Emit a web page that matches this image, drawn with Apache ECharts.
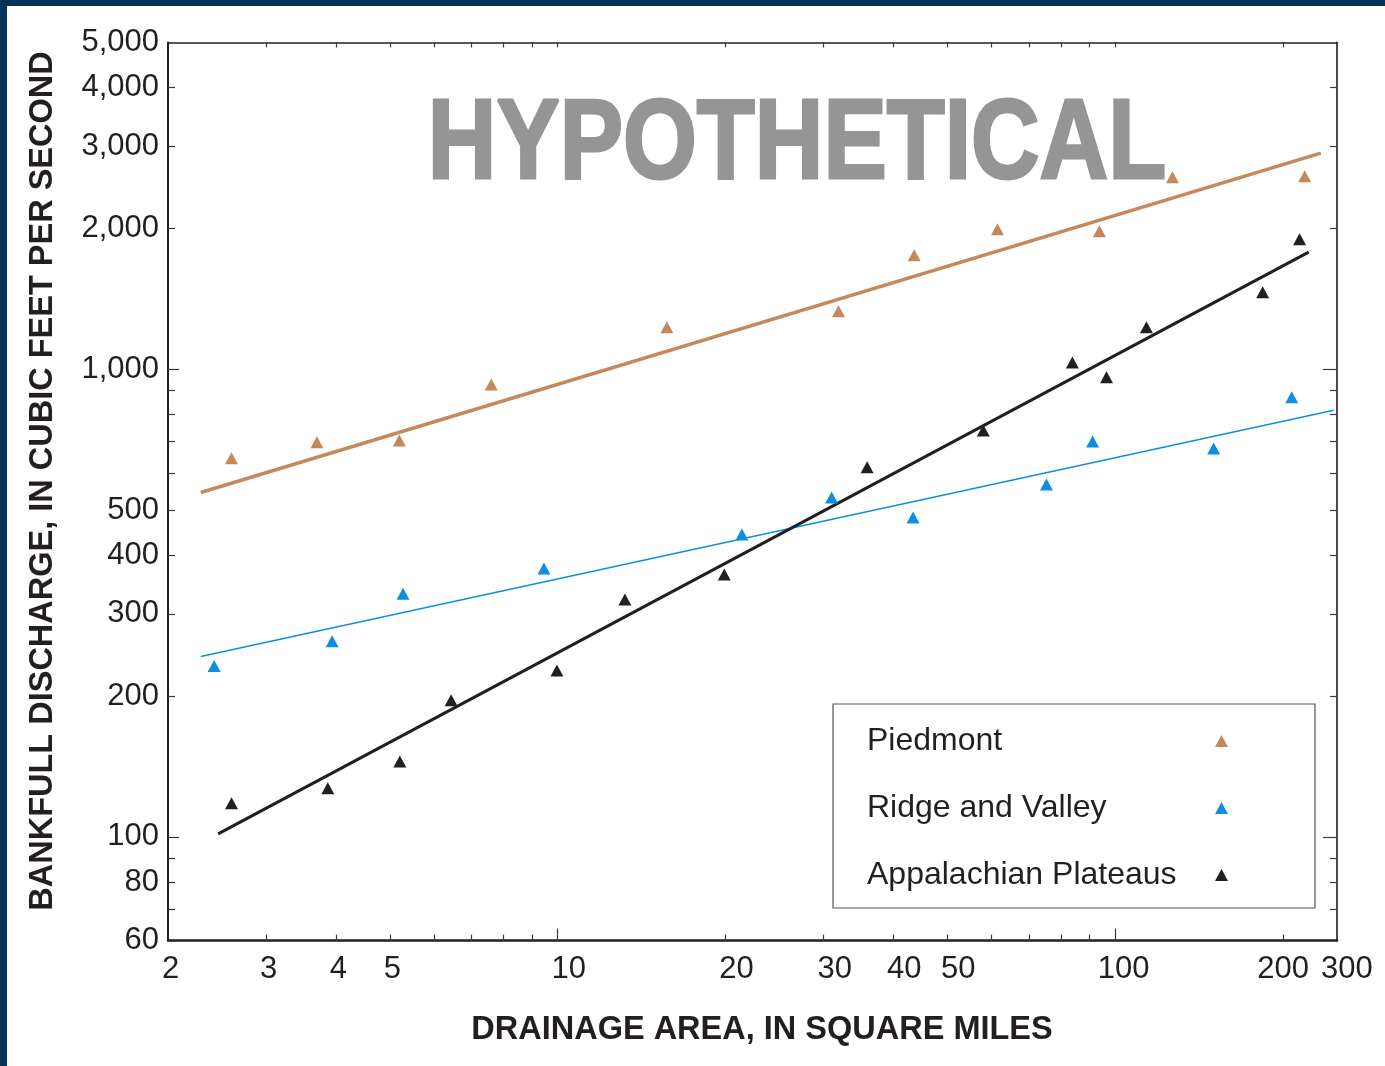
<!DOCTYPE html>
<html>
<head>
<meta charset="utf-8">
<title>Bankfull discharge vs drainage area</title>
<script src="https://cdn.jsdelivr.net/npm/echarts@6/dist/echarts.min.js"></script>
<style>
  html, body { margin: 0; padding: 0; background: #ffffff; }
  #chart { width: 1385px; height: 1066px; }
</style>
</head>
<body>
<div id="chart"></div>
<script>
// Drainage area (square miles) and bankfull discharge (cubic feet per second)
const piedmontArea  = [2.6, 3.7, 5.2, 7.6, 15.7, 31.9, 43.6, 61.5, 93.7, 126.7, 218.8];
const piedmontFlow  = [645, 698, 704, 928, 1229, 1330, 1753, 1993, 1974, 2575, 2588];

const ridgeArea     = [2.42, 3.94, 5.28, 9.45, 21.4, 31.0, 43.4, 75.3, 91.1, 150.2, 207.4];
const ridgeFlow     = [232, 262, 331, 375, 443, 532, 482, 567, 701, 677, 871];

const plateausArea  = [2.6, 3.87, 5.21, 6.44, 9.97, 13.2, 19.9, 35.9, 58.0, 83.8, 96.5, 113.8, 183.9, 214.2];
const plateausFlow  = [118, 127, 145, 196, 227, 322, 364, 617, 740, 1034, 961, 1229, 1461, 1897];

// Fitted regression lines (end points)
const piedmontFitArea = [2.29, 233.8];
const piedmontFitFlow = [545, 2899];
const ridgeFitArea    = [2.29, 246.6];
const ridgeFitFlow    = [243, 817];
const plateausFitArea = [2.46, 222.4];
const plateausFitFlow = [101.5, 1780];

// Axis ranges, ticks and labels
const areaRange = [2, 250];
const flowRange = [60, 5000];
const areaLabels = [2, 3, 4, 5, 10, 20, 30, 40, 50, 100, 200];
const areaExtraLabel = '300';
const areaMinorTicks = [3, 4, 5, 6, 7, 8, 9, 20, 30, 40, 50, 60, 70, 80, 90, 200];
const areaMajorTicks = [10, 100];
const flowLabels = [60, 80, 100, 200, 300, 400, 500, 1000, 2000, 3000, 4000, 5000];
const flowMinorTicks = [70, 80, 90, 200, 300, 400, 500, 600, 700, 800, 900, 2000, 3000, 4000];
const flowMajorTicks = [100, 1000];

const seriesNames = ['Piedmont', 'Ridge and Valley', 'Appalachian Plateaus'];
const watermark = 'HYPOTHETICAL';

const lg = Math.log10;
const zip = (xs, ys) => xs.map((x, i) => [lg(x), lg(ys[i])]);

const ink = '#231f20';
const tickInk = '#3a3a3a';
const font = '"Liberation Sans", Arial, sans-serif';
const brown = '#c4885a';
const blue = '#0d8ee0';
const black = '#231f20';
const grey = '#959595';

function hAxis(extra) {
  return Object.assign({
    type: 'value', min: lg(areaRange[0]), max: lg(areaRange[1]),
    splitLine: { show: false },
    axisLine: { show: false, onZero: false },
    axisTick: { show: false },
    axisLabel: { show: false }
  }, extra);
}
function vAxis(extra) {
  return Object.assign({
    type: 'value', min: lg(flowRange[0]), max: lg(flowRange[1]),
    splitLine: { show: false },
    axisLine: { show: false, onZero: false },
    axisTick: { show: false },
    axisLabel: { show: false }
  }, extra);
}

const chart = echarts.init(document.getElementById('chart'), null, { renderer: 'canvas' });

chart.setOption({
  animation: false,
  backgroundColor: '#ffffff',
  textStyle: { fontFamily: font },
  grid: { left: 168, right: 48, top: 42.4, bottom: 125.4, containLabel: false, outerBoundsMode: 'none' },
  xAxis: [
    hAxis({
      position: 'bottom',
      name: 'DRAINAGE AREA, IN SQUARE MILES',
      nameLocation: 'middle',
      nameGap: 73,
      nameMoveOverlap: false,
      nameTextStyle: { fontFamily: font, fontWeight: 'bold', fontSize: 32.5, color: ink, padding: [0, 0, 0, 19] },
      axisLine: { show: true, onZero: false, lineStyle: { color: ink, width: 2.5 } },
      axisTick: { show: true, inside: true, length: 6, customValues: areaMinorTicks.map(lg), lineStyle: { color: tickInk, width: 1.2 } },
      axisLabel: {
        show: true,
        customValues: areaLabels.map(lg),
        margin: 13,
        fontSize: 31,
        color: ink,
        fontFamily: font,
        formatter: function (v) {
          const n = Math.round(Math.pow(10, v));
          if (n === 200) return '{p200|}{t|200}{gap|}{t|' + areaExtraLabel + '}';
          const len = String(n).length;
          const key = len === 1 ? 'p1' : (len === 2 ? 'p2' : 'p3');
          return '{' + key + '|}{t|' + n + '}';
        },
        rich: {
          t: { fontSize: 31, color: ink, fontFamily: font },
          p1: { width: 5 },
          p2: { width: 22 },
          p3: { width: 17 },
          p200: { width: 64 },
          gap: { width: 12 }
        }
      }
    }),
    hAxis({
      position: 'bottom',
      axisTick: { show: true, inside: true, length: 12, customValues: areaMajorTicks.map(lg), lineStyle: { color: tickInk, width: 1.2 } }
    }),
    hAxis({
      position: 'top',
      axisLine: { show: true, onZero: false, lineStyle: { color: ink, width: 1.6 } },
      axisTick: { show: true, inside: true, length: 5, customValues: areaMinorTicks.concat(areaMajorTicks).map(lg), lineStyle: { color: tickInk, width: 1.2 } }
    })
  ],
  yAxis: [
    vAxis({
      position: 'left',
      name: 'BANKFULL DISCHARGE, IN CUBIC FEET PER SECOND',
      nameLocation: 'middle',
      nameGap: 108,
      nameMoveOverlap: false,
      nameTextStyle: { fontFamily: font, fontWeight: 'bold', fontSize: 32.5, color: ink, padding: [0, 0, 0, 21] },
      axisLine: { show: true, onZero: false, lineStyle: { color: ink, width: 2 } },
      axisTick: { show: true, inside: true, length: 7, customValues: flowMinorTicks.map(lg), lineStyle: { color: tickInk, width: 1.2 } },
      axisLabel: {
        show: true,
        customValues: flowLabels.map(lg),
        margin: 9,
        fontSize: 31,
        color: ink,
        fontFamily: font,
        formatter: v => Math.round(Math.pow(10, v)).toLocaleString('en-US')
      }
    }),
    vAxis({
      position: 'left',
      axisTick: { show: true, inside: true, length: 11, customValues: flowMajorTicks.map(lg), lineStyle: { color: tickInk, width: 1.2 } }
    }),
    vAxis({
      position: 'right',
      axisLine: { show: true, onZero: false, lineStyle: { color: ink, width: 1.6 } },
      axisTick: { show: true, inside: true, length: 7, customValues: flowMinorTicks.map(lg), lineStyle: { color: tickInk, width: 1.2 } }
    }),
    vAxis({
      position: 'right',
      axisTick: { show: true, inside: true, length: 14, customValues: flowMajorTicks.map(lg), lineStyle: { color: tickInk, width: 1.2 } }
    })
  ],
  legend: {
    data: seriesNames,
    orient: 'vertical',
    left: 833,
    top: 704,
    align: 'right',
    itemWidth: 13,
    itemHeight: 12,
    itemGap: 35,
    padding: [21, 87, 17, 34],
    borderColor: '#555555',
    borderWidth: 1.2,
    backgroundColor: '#ffffff',
    selectedMode: false,
    formatter: name => '{n|' + name + '}',
    textStyle: {
      rich: { n: { width: 343, align: 'left', fontSize: 32, lineHeight: 32, color: ink, fontFamily: font } }
    }
  },
  graphic: [
    { type: 'rect', z: 100, shape: { x: 0, y: 0, width: 1385, height: 6 }, style: { fill: '#06325a' } },
    { type: 'rect', z: 100, shape: { x: 0, y: 0, width: 7, height: 1066 }, style: { fill: '#06325a' } },
    {
      type: 'text', z: 1, x: 797, y: 147, scaleX: 0.84, scaleY: 1,
      style: {
        text: watermark, fontFamily: font, fontWeight: 'bold', fontSize: 113,
        fill: grey, stroke: grey, lineWidth: 3, align: 'center', verticalAlign: 'middle'
      }
    }
  ],
  series: [
    { name: 'Piedmont fit', type: 'line', data: zip(piedmontFitArea, piedmontFitFlow), showSymbol: false, symbol: 'none', lineStyle: { color: brown, width: 3.5 }, z: 3, silent: true },
    { name: 'Ridge and Valley fit', type: 'line', data: zip(ridgeFitArea, ridgeFitFlow), showSymbol: false, symbol: 'none', lineStyle: { color: blue, width: 1.5 }, z: 3, silent: true },
    { name: 'Appalachian Plateaus fit', type: 'line', data: zip(plateausFitArea, plateausFitFlow), showSymbol: false, symbol: 'none', lineStyle: { color: black, width: 3 }, z: 3, silent: true },
    { name: seriesNames[0], type: 'scatter', data: zip(piedmontArea, piedmontFlow), symbol: 'triangle', symbolSize: [13, 12], itemStyle: { color: brown, opacity: 1 }, z: 5 },
    { name: seriesNames[1], type: 'scatter', data: zip(ridgeArea, ridgeFlow), symbol: 'triangle', symbolSize: [13, 12], itemStyle: { color: blue, opacity: 1 }, z: 5 },
    { name: seriesNames[2], type: 'scatter', data: zip(plateausArea, plateausFlow), symbol: 'triangle', symbolSize: [13, 12], itemStyle: { color: black, opacity: 1 }, z: 5 }
  ]
});
</script>
</body>
</html>
